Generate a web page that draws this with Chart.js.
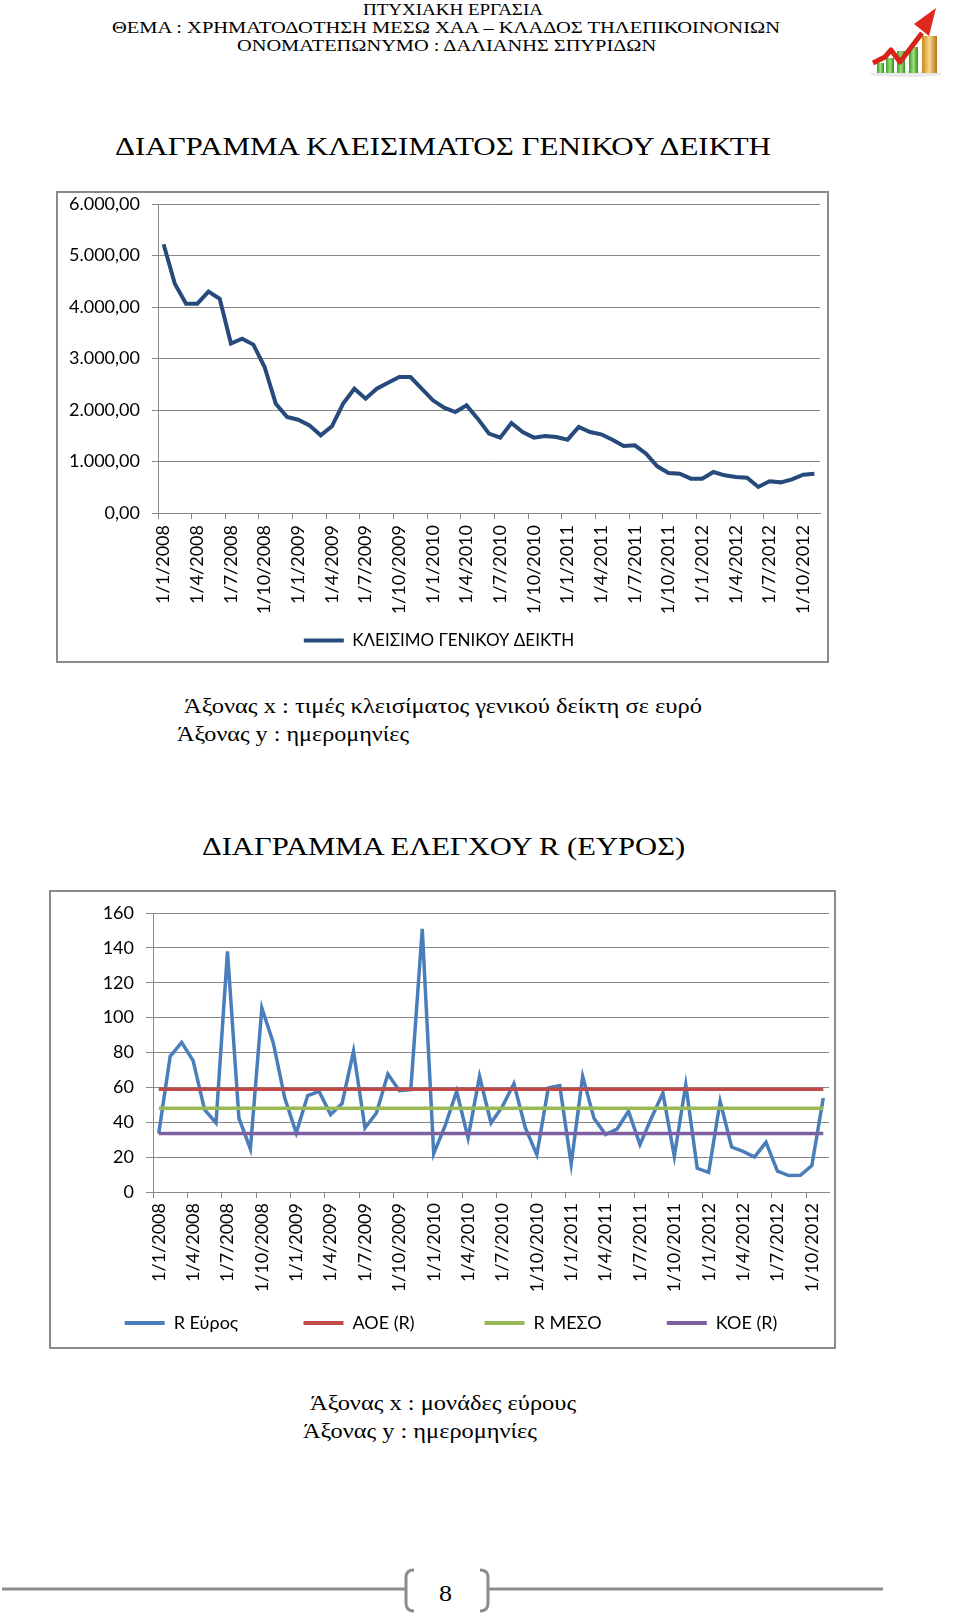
<!DOCTYPE html>
<html>
<head>
<meta charset="utf-8">
<script src="https://cdn.jsdelivr.net/npm/chart.js@4.4.1/dist/chart.umd.min.js"></script>
<style>
html, body { margin: 0; padding: 0; background: #fff; }
body { width: 960px; height: 1617px; position: relative; overflow: hidden; font-family: "Liberation Serif", "Times New Roman", serif; color: #000; }
.t { position: absolute; white-space: nowrap; line-height: 1; transform-origin: 0 50%; }
.frame { position: absolute; border: 2px solid #8b8b8b; box-sizing: border-box; background: #fff; }
.frame canvas { display: block; }
svg { position: absolute; }
</style>
</head>
<body>

<!-- logo -->
<svg style="left:850px;top:0" width="110" height="85" viewBox="0 0 110 85">
  <defs>
    <linearGradient id="g1" x1="0" x2="1"><stop offset="0" stop-color="#3c9a2a"/><stop offset="0.5" stop-color="#9be07a"/><stop offset="1" stop-color="#2e8a22"/></linearGradient>
    <linearGradient id="g2" x1="0" x2="1"><stop offset="0" stop-color="#c98a1c"/><stop offset="0.5" stop-color="#f6d88a"/><stop offset="1" stop-color="#b8741a"/></linearGradient>
  </defs>
  <ellipse cx="56" cy="74" rx="36" ry="3" fill="#e8e8e8"/>
  <rect x="27" y="63" width="7" height="10" fill="url(#g1)"/>
  <rect x="36" y="58" width="8" height="15" fill="url(#g1)"/>
  <rect x="47" y="51" width="8" height="22" fill="url(#g1)"/>
  <rect x="59" y="47" width="9" height="26" fill="url(#g1)"/>
  <rect x="72" y="36" width="15" height="37" fill="url(#g2)"/>
  <polyline points="23,63 35,57 41,50 50,62 72,33" fill="none" stroke="#d8231a" stroke-width="5" stroke-linejoin="round"/>
  <polygon points="86,8 64,24 79,36" fill="#e0291e"/>
</svg>

<!-- footer -->
<svg style="left:0;top:1565px" width="960" height="52" viewBox="0 0 960 52">
  <g fill="none" stroke="#8c8c8c" stroke-width="3">
    <line x1="2" y1="24" x2="405" y2="24"/>
    <line x1="489" y1="24" x2="883" y2="24"/>
    <path d="M414 5 Q406 5 406 12 L406 38 Q406 46 414 46"/>
    <path d="M480 5 Q488 5 488 12 L488 38 Q488 46 480 46"/>
  </g>
</svg>

<div class="frame" style="left:56px;top:191px;width:773px;height:472px;">
  <canvas id="chartClose" width="769" height="468"></canvas>
</div>
<div class="frame" style="left:49px;top:890px;width:787px;height:459px;">
  <canvas id="chartRange" width="783" height="455"></canvas>
</div>

<script>
// ---- data ----
const years = [2008, 2009, 2010, 2011, 2012];
const months = [1, 2, 3, 4, 5, 6, 7, 8, 9, 10, 11, 12];
const dates = [];
years.forEach(y => months.forEach(m => { if (dates.length < 59) dates.push("1/" + m + "/" + y); }));

// κλείσιμο γενικού δείκτη (μηνιαία)
const closeIndex = [5217, 4450, 4065, 4065, 4300, 4160, 3290, 3385, 3270, 2835,
  2123, 1864, 1812, 1702, 1508, 1683, 2123, 2414, 2220, 2414,
  2530, 2640, 2640, 2414, 2188, 2045, 1961, 2090, 1832, 1540,
  1463, 1748, 1573, 1463, 1495, 1476, 1424, 1670, 1573, 1528,
  1424, 1301, 1314, 1152, 906, 777, 764, 667, 667, 796,
  731, 699, 686, 505, 615, 595, 654, 744, 764];

// εύρος R
const rRange = [33.5, 77.8, 85.8, 75.3, 47.2, 39.6, 138, 42.4, 24.7, 105.5,
  85.5, 53.9, 33.8, 55.3, 57.7, 44.4, 50.7, 80.7, 36.7, 45.3,
  67.7, 58.1, 58.7, 150.9, 22, 38, 57.7, 31, 66.3, 39.6,
  49.1, 62.1, 36.7, 21.4, 59.7, 61, 16.1, 66.3, 42.1, 32.9,
  36.1, 46.3, 27.2, 42.4, 56.8, 20.5, 61.6, 13.6, 11.3, 52,
  25.8, 23.3, 20.1, 28.5, 11.9, 9.4, 9.6, 15.1, 53.9];

// όρια ελέγχου (σταθερά)
const AOE = 58.9;
const R_MESO = 48.0;
const KOE = 33.5;

const closeTicks = [0, 1000, 2000, 3000, 4000, 5000, 6000];
const rangeTicks = [0, 20, 40, 60, 80, 100, 120, 140, 160];

// ---- common ----
const GRID = "#878787";
const FAMILY = "Lato, 'Noto Sans', sans-serif";
const FONT = { family: FAMILY, size: 18 };

function fmt(v) {
  const s = String(Math.round(v));
  return s.replace(/\B(?=(\d{3})+(?!\d))/g, ".") + ",00";
}

function xAxis(height, tickPad) {
  return {
    offset: true,
    afterFit: s => { s.height = height; s.paddingLeft = 0; s.paddingRight = 0; },
    grid: {
      offset: true,
      drawOnChartArea: false,
      tickLength: 6,
      color: c => (c.index % 3 === 0 ? GRID : "rgba(0,0,0,0)")
    },
    border: { display: true, color: GRID, width: 1 },
    ticks: {
      autoSkip: false,
      minRotation: 90,
      maxRotation: 90,
      padding: tickPad,
      color: "#000",
      font: FONT,
      callback: (v, i) => (i % 3 === 0 ? dates[i] : "")
    }
  };
}

function yAxis(max, ticks, width, tickLen, fmtFn) {
  return {
    min: 0, max: max,
    afterFit: s => { s.width = width; s.paddingTop = 0; s.paddingBottom = 0; },
    afterBuildTicks: s => { s.ticks = ticks.map(v => ({ value: v })); },
    grid: { color: GRID, tickLength: tickLen },
    border: { display: true, color: GRID },
    ticks: { autoSkip: false, padding: 12, color: "#000", font: FONT, callback: fmtFn }
  };
}

// γραμμή αντί για κουτί στο υπόμνημα; step = απόσταση ανάμεσα στα στοιχεία
function legendLabels(size, step) {
  return chart => {
    const items = Chart.defaults.plugins.legend.labels.generateLabels(chart)
      .map(l => Object.assign(l, { fillStyle: l.strokeStyle, lineWidth: 0 }))
      .sort((a, b) => a.datasetIndex - b.datasetIndex);
    if (step) {
      const ctx = chart.ctx;
      ctx.save();
      ctx.font = size + "px " + FAMILY;
      const target = step - 40 - size / 2 - 10;
      items.forEach((l, i) => {
        if (i === items.length - 1) return;
        while (ctx.measureText(l.text).width < target) l.text += " ";
      });
      ctx.restore();
    }
    return items;
  };
}

// ========== ΓΡΑΦΗΜΑ ΚΛΕΙΣΙΜΑΤΟΣ ==========
new Chart(document.getElementById("chartClose"), {
  type: "line",
  data: {
    labels: dates,
    datasets: [{
      label: "ΚΛΕΙΣΙΜΟ ΓΕΝΙΚΟΥ ΔΕΙΚΤΗ",
      data: closeIndex,
      borderColor: "#254a7b",
      backgroundColor: "#254a7b",
      borderWidth: 4,
      pointRadius: 0,
      tension: 0
    }]
  },
  options: {
    responsive: false,
    animation: false,
    layout: { padding: { left: 0, right: 7, top: 11, bottom: 2 } },
    plugins: {
      tooltip: { enabled: false },
      legend: {
        position: "bottom",
        labels: { boxWidth: 40, boxHeight: 4, padding: 10, color: "#000", font: { family: FAMILY, size: 17 }, generateLabels: legendLabels(17, 0) }
      }
    },
    scales: {
      x: xAxis(109, 6),
      y: yAxis(6000, closeTicks, 100, 6, v => fmt(v))
    }
  }
});

// ========== ΔΙΑΓΡΑΜΜΑ ΕΛΕΓΧΟΥ R ==========
new Chart(document.getElementById("chartRange"), {
  type: "line",
  data: {
    labels: dates,
    datasets: [
      { label: "R Εύρος", data: rRange, borderColor: "#4a7ebb", order: 1 },
      { label: "ΑΟΕ (R)", data: dates.map(() => AOE), borderColor: "#be4b48", order: 0 },
      { label: "R ΜΕΣΟ", data: dates.map(() => R_MESO), borderColor: "#98b954", order: 0 },
      { label: "ΚΟΕ (R)", data: dates.map(() => KOE), borderColor: "#7d60a0", order: 0 }
    ].map(d => Object.assign(d, { backgroundColor: d.borderColor, borderWidth: 3.5, pointRadius: 0, tension: 0 }))
  },
  options: {
    responsive: false,
    animation: false,
    // padding αριστερά μετακινεί το υπόμνημα, ο άξονας y αντισταθμίζει
    layout: { padding: { left: 22, right: 5, top: 21, bottom: 5 } },
    plugins: {
      tooltip: { enabled: false },
      legend: {
        position: "bottom",
        labels: { boxWidth: 40, boxHeight: 4, padding: 10, color: "#000", font: FONT, generateLabels: legendLabels(18, 178) }
      }
    },
    scales: {
      x: xAxis(112, 5),
      y: yAxis(160, rangeTicks, 80, 7, v => v)
    }
  }
});

// ---- κείμενα σελίδας: [κείμενο, αριστερά, δεξιά, κέντρο y, μέγεθος] ----
const texts = [
  ["ΠΤΥΧΙΑΚΗ ΕΡΓΑΣΙΑ", 363, 543, 10, 17],
  ["ΘΕΜΑ : ΧΡΗΜΑΤΟΔΟΤΗΣΗ ΜΕΣΩ ΧΑΑ – ΚΛΑΔΟΣ ΤΗΛΕΠΙΚΟΙΝΟΝΙΩΝ", 112, 780, 28, 17],
  ["ΟΝΟΜΑΤΕΠΩΝΥΜΟ : ΔΑΛΙΑΝΗΣ ΣΠΥΡΙΔΩΝ", 237, 656, 46, 17],
  ["ΔΙΑΓΡΑΜΜΑ ΚΛΕΙΣΙΜΑΤΟΣ ΓΕΝΙΚΟΥ ΔΕΙΚΤΗ", 115, 771, 148, 25],
  ["Άξονας x : τιμές κλεισίματος γενικού δείκτη σε ευρό", 184, 702, 708, 21],
  ["Άξονας y : ημερομηνίες", 177, 409, 736, 21],
  ["ΔΙΑΓΡΑΜΜΑ ΕΛΕΓΧΟΥ R (ΕΥΡΟΣ)", 202, 685, 848, 25],
  ["Άξονας x : μονάδες εύρους", 310, 576, 1405, 21],
  ["Άξονας y : ημερομηνίες", 303, 537, 1433, 21],
  ["8", 439, 452, 1595, 23]
];
texts.forEach(([txt, l, r, cy, fs]) => {
  const el = document.createElement("div");
  el.className = "t";
  el.textContent = txt;
  el.style.fontSize = fs + "px";
  el.style.left = l + "px";
  el.style.top = (cy - fs * 0.55) + "px";
  document.body.appendChild(el);
  const w = el.getBoundingClientRect().width;
  el.style.transform = "scaleX(" + ((r - l) / w).toFixed(3) + ")";
});
</script>
</body>
</html>
